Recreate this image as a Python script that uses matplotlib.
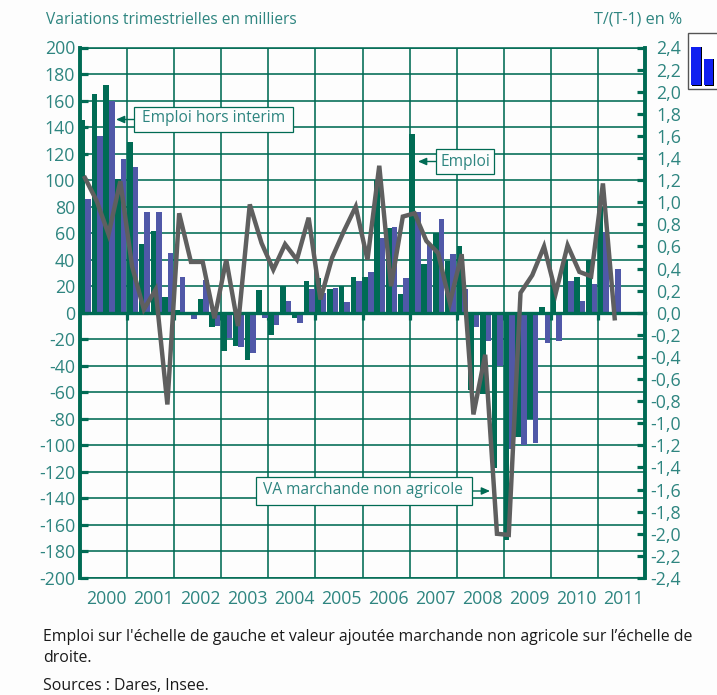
import numpy as np
import matplotlib
matplotlib.use("Agg")
import matplotlib.pyplot as plt
from matplotlib.patches import Rectangle

plt.rcParams['font.family'] = ['Open Sans', 'DejaVu Sans']

years = list(range(2000, 2012))
emploi = [145, 165, 172, 101, 129, 52, 62, 12, 2, -2, 10, -11,
          -29, -25, -36, 17, -17, 20, -4, 24, 26, 18, 20, 27,
          27, 100, 64, 14, 135, 37, 60, 39, 50, -58, -61, -117,
          -171, -94, -80, 4, 20, 40, 27, 40, 80, 0]
hors_interim = [86, 133, 160, 116, 110, 76, 76, 45, 27, -5, 25, -10,
                -19, -26, -30, -4, -9, 9, -8, 18, 15, 19, 8, 24,
                31, 56, 65, 26, 76, 52, 71, 44, 18, -11, -21, -40,
                -103, -100, -98, -23, -21, 24, 9, 22, 61, 33]
va = [1.22, 1.01, 0.71, 1.19, 0.42, 0.03, 0.21, -0.83, 0.90, 0.46, 0.46, -0.05,
      0.48, -0.12, 0.98, 0.63, 0.39, 0.62, 0.48, 0.86, 0.12, 0.50, 0.74, 0.96,
      0.48, 1.33, 0.24, 0.87, 0.90, 0.65, 0.54, 0.09, 0.53, -0.92, -0.38, -2.00,
      -2.01, 0.18, 0.34, 0.60, 0.18, 0.61, 0.37, 0.33, 1.17, -0.05]
left_ticks = list(range(-200, 201, 20))
right_ticks = [round(v * 0.2, 1) for v in range(-12, 13)]

W, H = 717, 695
GREEN = '#006B54'
BLUE = '#5058A8'
GRAY = '#5F5F5F'
TEAL = '#2E8580'
BG = '#FDFDFD'

fig = plt.figure(figsize=(W / 100, H / 100), dpi=100, facecolor=BG)
L, R, T, B = 80, 645, 47.5, 578
ax = fig.add_axes([L / W, 1 - B / H, (R - L) / W, (B - T) / H], facecolor=BG)
ax.set_xlim(2000, 2012)
ax.set_ylim(-200, 200)

q = 2000 + np.arange(len(emploi)) * 0.25
bw = 0.118
ax.bar(q + 0.057, emploi, width=bw, color=GREEN, zorder=3)
ax.bar(q + 0.175, hors_interim, width=bw, color=BLUE, zorder=3)

ax.set_yticks(left_ticks)
ax.set_yticklabels([str(v) for v in left_ticks], fontsize=12.8, color=TEAL)
ax.tick_params(axis='y', direction='in', length=5.5, width=2.3, color=GREEN, pad=3.5)
ax.set_xticks(years[1:])
ax.set_xticklabels([])
ax.tick_params(axis='x', direction='out', length=5, width=2.3, color=GREEN)
ax.grid(True, color=GREEN, lw=1.15, zorder=1)
ax.set_axisbelow(True)
ax.spines['left'].set(color=GREEN, lw=2.8)
ax.spines['right'].set(color=GREEN, lw=2.8)
ax.spines['top'].set(color=GREEN, lw=1.15)
ax.spines['bottom'].set_position(('data', 0))
ax.spines['bottom'].set(color=GREEN, lw=2.4, zorder=4)
ax.axhline(-200, color=GREEN, lw=1.15, zorder=1, clip_on=False)

sec = ax.secondary_xaxis(-0.0)
sec.set_xticks([y + 0.55 for y in years])
sec.set_xticklabels([str(y) for y in years], fontsize=12.8, color=TEAL)
sec.tick_params(axis='x', length=0, pad=9)
sec.spines['bottom'].set_visible(False)

ax2 = ax.twinx()
ax2.set_ylim(-2.4, 2.4)
ax2.plot(q + 0.106, va, color=GRAY, lw=3.2, solid_joinstyle='miter', zorder=5)
ax2.set_yticks(right_ticks)
ax2.set_yticklabels([f"{v:.1f}".replace('.', ',') for v in right_ticks],
                    fontsize=12.8, color=TEAL, ha='right')
ax2.tick_params(axis='y', direction='in', length=5.5, width=2.3, color=GREEN, pad=26)
for s in ax2.spines.values():
    s.set_visible(False)


def fx(px):
    return px / W


def fy(py):
    return 1 - py / H


def callout(text, cx, cy, x0, y0, x1, y1, tip, side):
    """Boxed label with a small arrow, positioned in reference pixels."""
    fig.add_artist(Rectangle((fx(x0), fy(y1)), (x1 - x0) / W, (y1 - y0) / H,
                             transform=fig.transFigure, fc=BG, ec=GREEN, lw=0.9, zorder=10))
    fig.text(fx(cx), fy(cy), text, fontsize=11.2, color=TEAL, ha='center', va='center', zorder=11)
    start = x0 if side == 'l' else x1
    ann = ax2.annotate('', xy=(fx(tip), fy((y0 + y1) / 2)), xycoords='figure fraction',
                       xytext=(fx(start), fy((y0 + y1) / 2)), textcoords='figure fraction',
                       arrowprops=dict(arrowstyle='-|>,head_width=0.22,head_length=0.5',
                                       color=GREEN, lw=1.0, shrinkA=0, shrinkB=0), zorder=11)
    ann.set_in_layout(False)


callout('Emploi hors interim', 213.5, 118.5, 134, 107, 293, 132, 116, 'l')
callout('Emploi', 465, 161.5, 436, 149, 494, 174, 418, 'l')
callout('VA marchande non agricole', 363, 490.5, 256, 477, 472, 505, 490, 'r')

fig.text(fx(46), fy(20), 'Variations trimestrielles en milliers', fontsize=11.2, color=TEAL, va='center')
fig.text(fx(682), fy(20), 'T/(T-1) en %', fontsize=11.6, color=TEAL, va='center', ha='right')

CAP = '#1A1A1A'
fig.text(fx(43), fy(637), "Emploi sur l'échelle de gauche et valeur ajoutée marchande non agricole sur l’échelle de",
         fontsize=11.4, color=CAP, va='center')
fig.text(fx(43), fy(658), 'droite.', fontsize=11.4, color=CAP, va='center')
fig.text(fx(43), fy(686), 'Sources : Dares, Insee.', fontsize=11.4, color=CAP, va='center')

# Small decorative bar icon cut off by the right edge
fig.add_artist(Rectangle((fx(688), fy(89)), 40 / W, 56 / H, transform=fig.transFigure,
                         fc='white', ec='#555555', lw=1.0))
for x0, y0, w in [(691, 47, 10), (704, 59, 9)]:
    fig.add_artist(Rectangle((fx(x0 + 1), fy(86)), w / W, (86 - y0) / H, transform=fig.transFigure,
                             fc='black', ec='none'))
    fig.add_artist(Rectangle((fx(x0), fy(85)), w / W, (85 - y0) / H, transform=fig.transFigure,
                             fc='#1020F0', ec='none'))

fig.savefig('out.png', dpi=100, facecolor=BG)
